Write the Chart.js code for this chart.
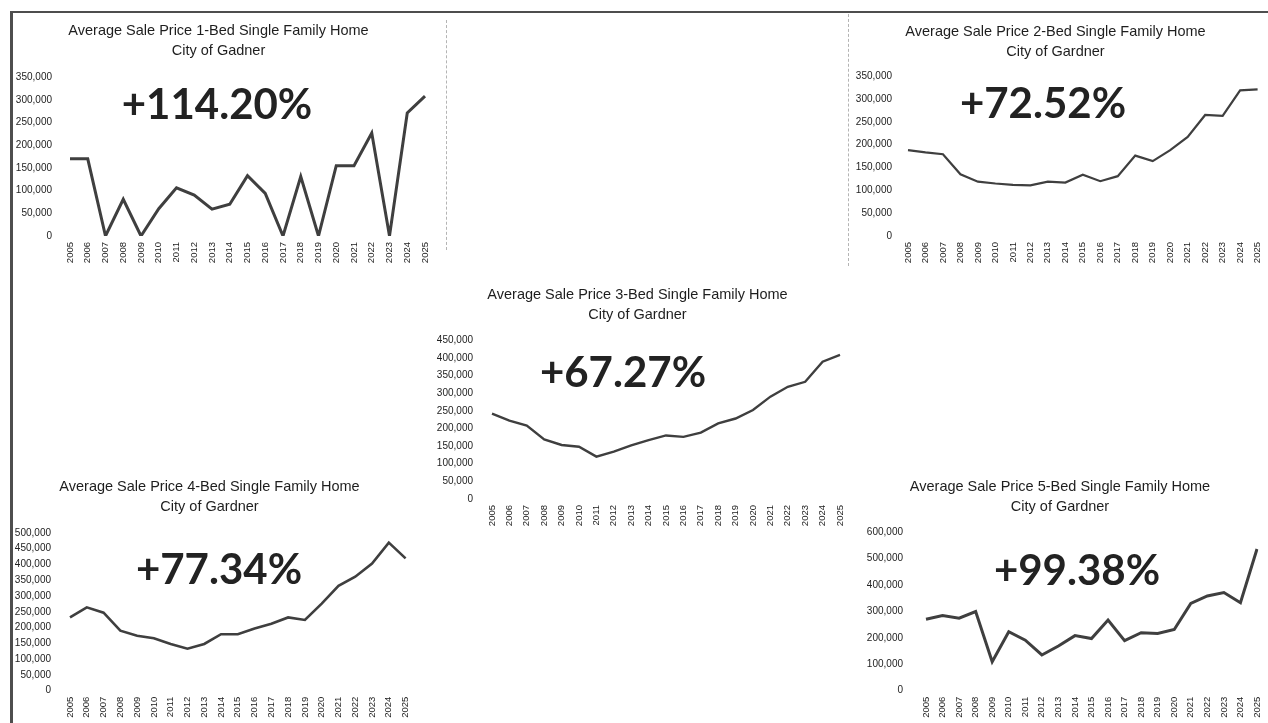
<!DOCTYPE html>
<html>
<head>
<meta charset="utf-8">
<title>Average Sale Price - City of Gardner</title>
<script src="https://cdn.jsdelivr.net/npm/chart.js@4.4.1/dist/chart.umd.min.js"></script>
<style>
  html, body { margin: 0; padding: 0; background: #fff; width: 1268px; height: 723px; overflow: hidden; }
  #frame { position: absolute; left: 10px; top: 11px; width: 1270px; height: 720px; border-top: 2px solid #4e4e4e; border-left: 3px solid #4e4e4e; }
  .box { position: absolute; }
  .box canvas { display: block; }
  .change { position: absolute; transform: translate(-50%, -50%); font: 700 42px Lato, "Liberation Sans", sans-serif; color: #222; white-space: nowrap; }
  .rule { position: absolute; width: 0; border-left: 1px dashed #b4b4b4; }
</style>
</head>
<body>
<div id="frame"></div>
<div class="rule" style="left:848px; top:14px; height:252px;"></div>
<div class="rule" style="left:446px; top:20px; height:230px;"></div>
<div id="page"></div>
<script>
const years = ['2005', '2006', '2007', '2008', '2009', '2010', '2011', '2012', '2013', '2014', '2015',
  '2016', '2017', '2018', '2019', '2020', '2021', '2022', '2023', '2024', '2025'];

const bed1 = [170000, 170000, 0, 81000, 0, 60000, 106000, 90000, 59000, 70000, 133000,
  94000, 0, 131000, 0, 155000, 155000, 227000, 0, 271000, 308000];
const bed2 = [188000, 183000, 179000, 135000, 119000, 115000, 112000, 111000, 119000, 117000, 134000,
  120000, 131000, 176000, 164000, 188000, 217000, 265000, 263000, 319000, 321000];
const bed3 = [242000, 222000, 208000, 169000, 153000, 148000, 120000, 134000, 152000, 167000, 180000,
  176000, 188000, 214000, 228000, 252000, 290000, 318000, 332000, 389000, 408000];
const bed4 = [232000, 264000, 247000, 190000, 174000, 166000, 148000, 133000, 148000, 179000, 179000,
  197000, 212000, 232000, 224000, 276000, 332000, 361000, 403000, 469000, 419000];
const bed5 = [270000, 284000, 274000, 299000, 109000, 223000, 191000, 135000, 169000, 208000, 197000,
  267000, 189000, 219000, 216000, 231000, 330000, 358000, 371000, 332000, 535000];

const seriesList = [bed1, bed2, bed3, bed4, bed5];
const titleTop = [
  'Average Sale Price 1-Bed Single Family Home',
  'Average Sale Price 2-Bed Single Family Home',
  'Average Sale Price 3-Bed Single Family Home',
  'Average Sale Price 4-Bed Single Family Home',
  'Average Sale Price 5-Bed Single Family Home'
];
const titleSub = ['City of Gadner', 'City of Gardner', 'City of Gardner', 'City of Gardner', 'City of Gardner'];
const changes = ['+114.20%', '+72.52%', '+67.27%', '+77.34%', '+99.38%'];
const axisMax = [350000, 350000, 450000, 500000, 600000];
const axisStep = [50000, 50000, 50000, 50000, 100000];

// panel geometry on the page (canvas box + where the plot area should land)
const panels = [
  { left: 12,  width: 432, line1: 31,  plotLeft: 70,  plotRight: 425,  plotTop: 77,    plotBottom: 236,   bottom: 270, gap: 18, stroke: 3,   badge: [217, 103] },
  { left: 853, width: 422, line1: 32,  plotLeft: 908, plotRight: 1258, plotTop: 76,    plotBottom: 236,   bottom: 270, gap: 16, stroke: 2.2, badge: [1043, 102] },
  { left: 435, width: 424, line1: 295, plotLeft: 492, plotRight: 840,  plotTop: 340,   plotBottom: 499,   bottom: 533, gap: 19, stroke: 2.4, badge: [623, 371] },
  { left: 13,  width: 410, line1: 487, plotLeft: 70,  plotRight: 406,  plotTop: 532.7, plotBottom: 690.7, bottom: 723, gap: 19, stroke: 2.6, badge: [219, 568] },
  { left: 863, width: 418, line1: 487, plotLeft: 926, plotRight: 1257, plotTop: 531.7, plotBottom: 690.7, bottom: 723, gap: 23, stroke: 3,   badge: [1077, 569] }
];

const FONT = '"Liberation Sans", Arial, sans-serif';
const TITLE_SIZE = 14.5;
const LINE_H = 1.4;
const INK = '#3f3f3f';

const page = document.getElementById('page');

panels.forEach((p, i) => {
  const lh = TITLE_SIZE * LINE_H;
  const tTop = p.line1 - lh / 2;
  const top = tTop - 4;
  const height = p.bottom - top;
  const padBottom = p.plotTop - tTop - 2 * lh;
  const yWidth = p.plotLeft - p.left;
  const xHeight = p.bottom - p.plotBottom;
  const rightPad = p.left + p.width - p.plotRight;

  const box = document.createElement('div');
  box.className = 'box';
  box.style.left = p.left + 'px';
  box.style.top = top + 'px';
  const canvas = document.createElement('canvas');
  canvas.width = p.width;
  canvas.height = Math.round(height);
  box.appendChild(canvas);
  page.appendChild(box);

  new Chart(canvas.getContext('2d'), {
    type: 'line',
    data: {
      labels: years,
      datasets: [{
        data: seriesList[i],
        borderColor: INK,
        borderWidth: p.stroke,
        pointRadius: 0,
        tension: 0,
        fill: false
      }]
    },
    options: {
      responsive: false,
      animation: false,
      layout: { padding: { left: 0, right: rightPad, top: 0, bottom: 0 } },
      plugins: {
        legend: { display: false },
        tooltip: { enabled: false },
        title: {
          display: true,
          text: [titleTop[i], titleSub[i]],
          color: '#1e1e1e',
          font: { family: FONT, size: TITLE_SIZE, weight: 'normal', lineHeight: LINE_H },
          padding: { top: 4, bottom: padBottom }
        }
      },
      scales: {
        x: {
          grid: { display: false, drawTicks: false },
          border: { display: false },
          ticks: {
            color: '#222',
            font: { family: FONT, size: 9.5 },
            minRotation: 90,
            maxRotation: 90,
            autoSkip: false,
            padding: 6
          },
          afterFit: s => { s.height = xHeight; }
        },
        y: {
          min: 0,
          max: axisMax[i],
          grid: { display: false, drawTicks: false },
          border: { display: false },
          ticks: {
            stepSize: axisStep[i],
            color: '#222',
            font: { family: FONT, size: 10 },
            padding: p.gap,
            callback: v => v.toLocaleString('en-US')
          },
          afterFit: s => { s.width = yWidth; }
        }
      }
    }
  });

  const badge = document.createElement('div');
  badge.className = 'change';
  badge.textContent = changes[i];
  badge.style.left = p.badge[0] + 'px';
  badge.style.top = p.badge[1] + 'px';
  page.appendChild(badge);
});
</script>
</body>
</html>
